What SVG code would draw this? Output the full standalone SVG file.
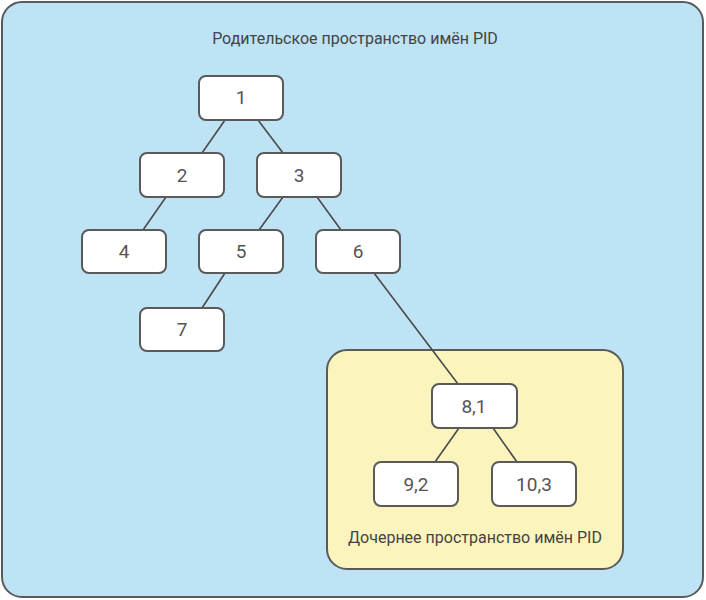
<svg xmlns="http://www.w3.org/2000/svg" width="706" height="600" viewBox="0 0 706 600">
<style>
.node rect{fill:#ffffff;stroke:#5a5a5a;stroke-width:2}
.node text{font-family:Roboto,"Liberation Sans",sans-serif;font-size:19px;fill:#555;text-anchor:middle}
.lbl{font-family:Roboto,"Liberation Sans",sans-serif;font-size:16px;fill:#444;text-anchor:middle}
#connectors line{stroke:#4a4a4a;stroke-width:1.6}
</style>
<rect x="2" y="2" width="701" height="595" rx="20" fill="#bde3f4" stroke="#5a5a5a" stroke-width="2"/>
<text class="lbl" x="355" y="44">Родительское пространство имён PID</text>
<rect x="327" y="350" width="296" height="219" rx="20" fill="#fbf4bd" stroke="#5a5a5a" stroke-width="2"/>
<text class="lbl" x="475" y="543">Дочернее пространство имён PID</text>
<g id="connectors">
<line x1="225" y1="120" x2="202" y2="153"/>
<line x1="258" y1="120" x2="283" y2="153"/>
<line x1="166" y1="197" x2="143" y2="230"/>
<line x1="283" y1="197" x2="259" y2="230"/>
<line x1="317" y1="197" x2="341" y2="230"/>
<line x1="225" y1="273" x2="202" y2="308"/>
<line x1="374" y1="273" x2="458" y2="384"/>
<line x1="459" y1="428" x2="435" y2="462"/>
<line x1="493" y1="428" x2="517" y2="462"/>
</g>
<g id="n1" class="node"><rect x="199" y="76" width="84" height="44" rx="7"/><text x="241" y="104">1</text></g>
<g id="n2" class="node"><rect x="140" y="153" width="84" height="44" rx="7"/><text x="182" y="182">2</text></g>
<g id="n3" class="node"><rect x="257" y="153" width="84" height="44" rx="7"/><text x="299" y="182">3</text></g>
<g id="n4" class="node"><rect x="82" y="230" width="84" height="43" rx="7"/><text x="124" y="258">4</text></g>
<g id="n5" class="node"><rect x="199" y="230" width="84" height="43" rx="7"/><text x="241" y="258">5</text></g>
<g id="n6" class="node"><rect x="316" y="230" width="84" height="43" rx="7"/><text x="358" y="258">6</text></g>
<g id="n7" class="node"><rect x="140" y="308" width="84" height="43" rx="7"/><text x="182" y="336">7</text></g>
<g id="n81" class="node"><rect x="432" y="384" width="85" height="44" rx="7"/><text x="474" y="413">8,1</text></g>
<g id="n92" class="node"><rect x="374" y="462" width="84" height="44" rx="7"/><text x="416" y="491">9,2</text></g>
<g id="n103" class="node"><rect x="492" y="462" width="84" height="44" rx="7"/><text x="534" y="491">10,3</text></g>
</svg>
